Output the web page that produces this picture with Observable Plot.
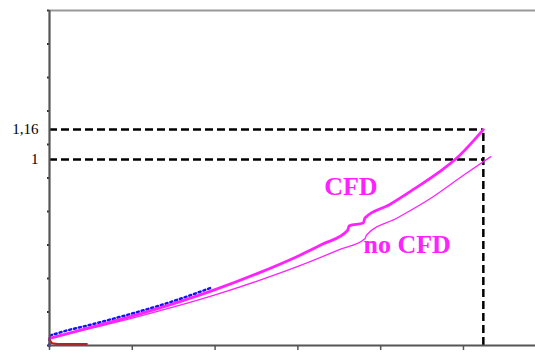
<!DOCTYPE html>
<html>
<head>
<meta charset="utf-8">
<script src="https://cdn.jsdelivr.net/npm/d3@7"></script>
<script src="https://cdn.jsdelivr.net/npm/@observablehq/plot@0.6"></script>
<style>
  html, body { margin: 0; padding: 0; background: #fff; }
  #chart svg { display: block; }
</style>
</head>
<body>
<div id="chart"></div>
<script>
// CFD curve (thick magenta)
const cfdX = [0, 0.5, 1.0, 1.5, 2.0, 2.5, 3.0, 3.3, 3.6, 3.62, 3.79, 3.81, 4.1, 4.4, 4.7, 4.95, 5.24];
const cfdY = [0.038, 0.098, 0.158, 0.225, 0.30, 0.385, 0.48, 0.545, 0.618, 0.643, 0.658, 0.685, 0.755, 0.84, 0.93, 1.02, 1.16];
// no CFD curve (thin magenta)
const noCfdX = [0, 0.5, 1.0, 1.5, 2.0, 2.5, 3.0, 3.5, 3.81, 3.83, 4.2, 4.6, 5.0, 5.33];
const noCfdY = [0.038, 0.092, 0.147, 0.207, 0.272, 0.345, 0.425, 0.515, 0.574, 0.594, 0.685, 0.79, 0.915, 1.015];
// blue dotted trace near the start
const blueX = [0, 0, 0.1, 0.5, 1.0, 1.5, 1.95];
const blueY = [0.0, 0.05, 0.066, 0.112, 0.172, 0.239, 0.31];
// red trace near the origin
const redX = [0, 0.03, 0.1, 0.25, 0.45];
const redY = [0.03, 0.012, 0.007, 0.007, 0.008];
// guide lines
const guideX = 5.24;
const guideValues = [1, 1.16];
const guideLabels = ["1", "1,16"];
// axes
const xTicks = [0, 1, 2, 3, 4, 5];
const yTicks = [0, 0.18, 0.36, 0.54, 0.72, 0.9, 1.08, 1.26, 1.44, 1.62, 1.8];
// curve labels
const curveLabels = [
  {x: 3.64, y: 0.81, text: "CFD"},
  {x: 4.32, y: 0.495, text: "no CFD"}
];

const toPts = (xs, ys) => xs.map((x, i) => ({x, y: ys[i]}));
const magenta = "#ff22ff";
const serif = "'Liberation Serif', 'Times New Roman', serif";

const plot = Plot.plot({
  width: 535,
  height: 354,
  marginLeft: 49,
  marginRight: 0,
  marginTop: 10,
  marginBottom: 9,
  x: {domain: [0, 5.87], label: null},
  y: {domain: [0, 1.8], label: null},
  style: {background: "#fff", fontFamily: serif},
  marks: [
    // top border
    Plot.ruleY([1.8], {stroke: "#999999", strokeWidth: 2}),
    // x axis ticks
    Plot.axisX({ticks: xTicks, tickSize: 5, tickFormat: () => "", stroke: "#555", strokeWidth: 1.5, label: null}),
    // y axis ticks
    Plot.axisY({ticks: yTicks, tickSize: 2, tickFormat: () => "", stroke: "#333", strokeWidth: 2, label: null}),
    // guides
    Plot.ruleY(guideValues, {x1: 0, x2: guideX, stroke: "#000", strokeWidth: 2.5, strokeDasharray: "8,4"}),
    Plot.ruleX([guideX], {y1: 0, y2: guideValues[1], stroke: "#000", strokeWidth: 2.5, strokeDasharray: "8,4"}),
    // curves
    Plot.line(toPts(noCfdX, noCfdY), {x: "x", y: "y", stroke: magenta, strokeWidth: 1.3, curve: "monotone-x"}),
    Plot.line(toPts(blueX, blueY), {x: "x", y: "y", stroke: "#1111ff", strokeWidth: 2.5, strokeDasharray: "2,3", curve: "monotone-x"}),
    Plot.line(toPts(cfdX, cfdY), {x: "x", y: "y", stroke: magenta, strokeWidth: 2.8, curve: "monotone-x"}),
    Plot.line(toPts(redX, redY), {x: "x", y: "y", stroke: "#ff0000", strokeWidth: 2.2}),
    // axis lines
    Plot.ruleX([0], {stroke: "#555", strokeWidth: 2.2, y1: -0.012, y2: 1.8}),
    Plot.ruleY([0], {stroke: "#555", strokeWidth: 2}),
    // y labels
    Plot.text(guideValues, {x: 0, y: d => d, text: (d, i) => guideLabels[i], dx: -11, textAnchor: "end", fontSize: 15, fill: "#000", fontFamily: serif}),
    // curve labels
    Plot.text(curveLabels, {x: "x", y: "y", text: "text", fill: magenta, fontSize: 26, fontWeight: "bold", textAnchor: "middle", lineAnchor: "bottom", fontFamily: serif})
  ]
});
document.getElementById("chart").appendChild(plot);
</script>
</body>
</html>
